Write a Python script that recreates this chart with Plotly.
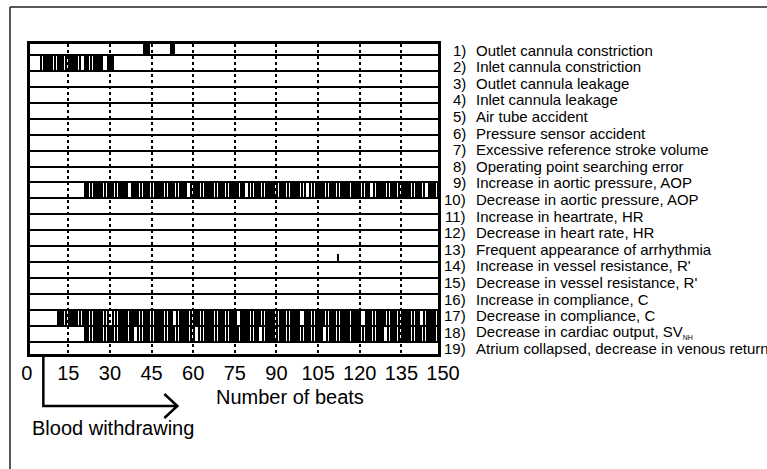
import plotly.graph_objects as go

# ---------------- data ----------------
fault_labels = [
    "Outlet cannula constriction",
    "Inlet cannula constriction",
    "Outlet cannula leakage",
    "Inlet cannula leakage",
    "Air tube accident",
    "Pressure sensor accident",
    "Excessive reference stroke volume",
    "Operating point searching error",
    "Increase in aortic pressure, AOP",
    "Decrease in aortic pressure, AOP",
    "Increase in heartrate, HR",
    "Decrease in heart rate, HR",
    "Frequent appearance of arrhythmia",
    "Increase in vessel resistance, R'",
    "Decrease in vessel resistance, R'",
    "Increase in compliance, C",
    "Decrease in compliance, C",
    "Decrease in cardiac output, SV<sub><span style='font-size:7px'>NH</span></sub>",
    "Atrium collapsed, decrease in venous return",
]
fault_numbers = list(range(1, 20))

# detected beats, as (first beat, last beat) runs, per fault number
det_fault_1 = [(42, 42), (43, 44), (52, 53)]
det_fault_2 = [(5, 19), (21, 27), (29, 31)]
det_fault_10 = [(21, 36), (38, 57), (59, 78), (80, 100), (102, 123), (125, 143), (145, 150)]
det_fault_14 = [(112, 112)]
det_fault_18 = [(11, 29), (31, 52), (54, 75), (77, 98), (100, 120), (122, 141), (143, 150)]
det_fault_19 = [(21, 38), (40, 60), (62, 83), (85, 106), (108, 128), (130, 150)]
detections = {1: det_fault_1, 2: det_fault_2, 10: det_fault_10,
              14: det_fault_14, 18: det_fault_18, 19: det_fault_19}
mark_height = {14: 0.5}          # fraction of a row; others fill the row

beat_ticks = [0, 15, 30, 45, 60, 75, 90, 105, 120, 135, 150]
beat_tick_labels = [str(v) for v in beat_ticks]
grid_beats = beat_ticks[1:-1]
blood_withdrawal_start = 6
x_title = "Number of beats"
event_label = "Blood withdrawing"

# ---------------- layout geometry (pixels) ----------------
W, H = 767, 469
ML, MR, MT, MB = 20, 317, 44, 115
PW, PH = W - ML - MR, H - MT - MB
BEAT0_PX, PX_PER_BEAT = 26.7, 2.775
FRAME_L, FRAME_R = 29.5, 438.0
LINE1_PX, ROW_PITCH = 55.0, 15.93
LABEL1_PX, LABEL_PITCH = 50.0, 16.61
FONT = "Liberation Sans, Arial, Helvetica, sans-serif"


def pxx(px):
    return (px - ML) / PW


def pxy(py):
    return (H - MB - py) / PH


x_range = [(FRAME_L - BEAT0_PX) / PX_PER_BEAT, (FRAME_R - BEAT0_PX) / PX_PER_BEAT]
x2_right_px = BEAT0_PX + PX_PER_BEAT * beat_ticks[-1]
y_top = 1 - (LINE1_PX - MT) / ROW_PITCH
y_range = [y_top + PH / ROW_PITCH, y_top]
l_top = 1 - (LABEL1_PX - MT) / LABEL_PITCH
y2_range = [l_top + PH / LABEL_PITCH, l_top]

# ---------------- marks ----------------
bx, bbase, bh = [], [], []
for k, runs in detections.items():
    h = mark_height.get(k, 1.0)
    for a, b in runs:
        for beat in range(a, b + 1):
            bx.append(beat)
            bbase.append(k - h)
            bh.append(h)

fig = go.Figure()
fig.add_trace(go.Bar(x=bx, y=bh, base=bbase, width=0.85,
                     marker=dict(color="black", line=dict(width=0)),
                     hoverinfo="skip", showlegend=False))
# helpers so the auxiliary axes exist
fig.add_trace(go.Scatter(x=[beat_ticks[0], beat_ticks[-1]], y=[0, 0], xaxis="x2", yaxis="y3",
                         mode="markers", marker=dict(opacity=0), hoverinfo="skip",
                         showlegend=False))
fig.add_trace(go.Scatter(x=[x_range[0]], y=[fault_numbers[0]], xaxis="x", yaxis="y2",
                         mode="markers", marker=dict(opacity=0), hoverinfo="skip",
                         showlegend=False))

fig.update_layout(
    width=W, height=H,
    margin=dict(l=ML, r=MR, t=MT, b=MB, pad=0),
    paper_bgcolor="white", plot_bgcolor="rgba(0,0,0,0)",
    barmode="overlay", bargap=0,
    font=dict(family=FONT, color="black"),
    showlegend=False,
    xaxis=dict(domain=[pxx(FRAME_L), pxx(FRAME_R)], range=x_range, anchor="y",
               tickvals=grid_beats, showticklabels=False, ticks="",
               showgrid=True, gridcolor="black", gridwidth=1.5, griddash="dot",
               zeroline=False, showline=True, linecolor="black", linewidth=3, mirror=True,
               fixedrange=True),
    yaxis=dict(domain=[0, 1], range=y_range, anchor="x",
               tickvals=fault_numbers, showticklabels=False, ticks="",
               showgrid=True, gridcolor="black", gridwidth=2,
               zeroline=False, showline=True, linecolor="black", linewidth=3, mirror=True,
               fixedrange=True),
    yaxis2=dict(overlaying="y", anchor="x", range=y2_range, visible=False, fixedrange=True),
    xaxis2=dict(domain=[pxx(BEAT0_PX), pxx(x2_right_px)], range=[beat_ticks[0], beat_ticks[-1]],
                anchor="y3", tickvals=beat_ticks, ticktext=beat_tick_labels,
                ticks="outside", ticklen=1, tickcolor="rgba(0,0,0,0)",
                tickfont=dict(size=20, family=FONT, color="black"),
                showgrid=False, zeroline=False, showline=False, fixedrange=True),
    yaxis3=dict(domain=[0, 1], anchor="x2", range=[0, 1], visible=False, fixedrange=True),
)

ann = []
for k, lab in zip(fault_numbers, fault_labels):
    ann.append(dict(text=f"{k})", xref="paper", yref="y2", x=pxx(468.5), y=k,
                    xanchor="right", yanchor="middle", showarrow=False,
                    font=dict(size=15, family=FONT, color="black")))
    ann.append(dict(text=lab, xref="paper", yref="y2", x=pxx(474), y=k,
                    xanchor="left", yanchor="middle", showarrow=False,
                    font=dict(size=15, family=FONT, color="black")))

ann.append(dict(text=x_title, xref="paper", yref="paper", x=pxx(290), y=pxy(397),
                xanchor="center", yanchor="middle", showarrow=False,
                font=dict(size=20, family=FONT, color="black")))
ann.append(dict(text=event_label, xref="paper", yref="paper", x=pxx(30), y=pxy(428),
                xanchor="left", yanchor="middle", showarrow=False,
                font=dict(size=20, family=FONT, color="black")))
fig.update_layout(annotations=ann)

# blood-withdrawing L-shaped arrow, anchored at the withdrawal start beat
arrow_path = "M0,-3 V-52 H134 M121,-40 L134,-52 L121,-64"
shapes = [
    dict(type="path", xref="x", yref="paper", xsizemode="pixel", ysizemode="pixel",
         xanchor=blood_withdrawal_start, yanchor=0, path=arrow_path,
         line=dict(color="black", width=2.5)),
    # page border (top and left)
    dict(type="line", xref="paper", yref="paper", x0=pxx(10), x1=pxx(W + 5),
         y0=pxy(7), y1=pxy(7), line=dict(color="#222", width=1.5)),
    dict(type="line", xref="paper", yref="paper", x0=pxx(10), x1=pxx(10),
         y0=pxy(7), y1=pxy(H + 5), line=dict(color="#222", width=1.5)),
]
fig.update_layout(shapes=shapes)

fig.write_html("out.html", config={"displayModeBar": False},
               post_script="document.body.style.margin='0';")
